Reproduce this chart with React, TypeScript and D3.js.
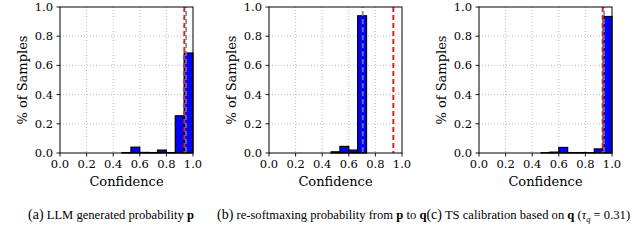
import * as d3 from 'd3';

// 15 equal-width confidence bins on [0, 1]
const binEdges = d3.range(16).map((i) => i / 15);
const ticks = [0, 0.2, 0.4, 0.6, 0.8, 1.0];

// fraction of samples per bin
const pShares = [0, 0, 0, 0, 0, 0, 0, 0.003, 0.04, 0.004, 0.003, 0.02, 0.003, 0.255, 0.685];
const qShares = [0, 0, 0, 0, 0, 0, 0, 0.008, 0.045, 0.02, 0.94, 0, 0, 0, 0];
const tsShares = [0, 0, 0, 0, 0, 0, 0, 0.002, 0.006, 0.038, 0.003, 0.003, 0.002, 0.028, 0.935];

// gray dashed = mean confidence, red dashed = accuracy
const meanConf = [0.948, 0.705, 0.94];
const accuracy = [0.935, 0.935, 0.93];

const panelLefts = [60, 269, 479];
const W = 133;
const TOP = 7;
const BOTTOM = 153;

const tickFont = "'DejaVu Serif', 'Liberation Serif', serif";

function Panel({ left, shares, mean, acc }: { left: number; shares: number[]; mean: number; acc: number }) {
  const x = d3.scaleLinear().domain([0, 1]).range([left, left + W]);
  const y = d3.scaleLinear().domain([0, 1]).range([BOTTOM, TOP]);
  const fmt = d3.format('.1f');
  return (
    <g style={{ fontFamily: tickFont }}>
      {/* grid */}
      {ticks.slice(1, -1).map((t) => (
        <g key={'g' + t}>
          <line x1={x(t)} x2={x(t)} y1={TOP} y2={BOTTOM} stroke="#b0b0b0" strokeWidth={0.8} strokeDasharray="1,2" />
          <line x1={left} x2={left + W} y1={y(t)} y2={y(t)} stroke="#b0b0b0" strokeWidth={0.8} strokeDasharray="1,2" />
        </g>
      ))}
      {/* bars */}
      {shares.map((v, i) =>
        v > 0 ? (
          <rect
            key={'b' + i}
            x={x(binEdges[i])}
            y={y(v)}
            width={x(binEdges[i + 1]) - x(binEdges[i])}
            height={BOTTOM - y(v)}
            fill="#0000ff"
            stroke="#000"
            strokeWidth={1.2}
          />
        ) : null
      )}
      {/* reference lines */}
      <line x1={x(acc)} x2={x(acc)} y1={TOP} y2={BOTTOM} stroke="#d62728" strokeWidth={2} strokeDasharray="5,3" />
      <line x1={x(mean)} x2={x(mean)} y1={TOP} y2={BOTTOM} stroke="#808080" strokeOpacity={0.8} strokeWidth={2} strokeDasharray="5,3" strokeDashoffset={4} />
      {/* frame */}
      <rect x={left} y={TOP} width={W} height={BOTTOM - TOP} fill="none" stroke="#000" strokeWidth={1} />
      {/* ticks */}
      {ticks.map((t) => (
        <g key={'t' + t}>
          <line x1={x(t)} x2={x(t)} y1={BOTTOM} y2={BOTTOM + 3.5} stroke="#000" strokeWidth={0.9} />
          <text x={x(t)} y={BOTTOM + 15} textAnchor="middle" fontSize={11.5} fill="#000">
            {fmt(t)}
          </text>
          <line x1={left - 3.5} x2={left} y1={y(t)} y2={y(t)} stroke="#000" strokeWidth={0.9} />
          <text x={left - 7} y={y(t) + 4} textAnchor="end" fontSize={11.5} fill="#000">
            {fmt(t)}
          </text>
        </g>
      ))}
      <text x={left + W / 2} y={BOTTOM + 33} textAnchor="middle" fontSize={13} fill="#000">
        Confidence
      </text>
      <text
        transform={`translate(${left - 33},${(TOP + BOTTOM) / 2}) rotate(-90)`}
        textAnchor="middle"
        fontSize={13}
        fill="#000"
      >
        % of Samples
      </text>
    </g>
  );
}

const capFont = "'Liberation Serif', 'DejaVu Serif', serif";

export default function App() {
  const all = [pShares, qShares, tsShares];
  return (
    <svg width={640} height={244} style={{ position: 'absolute', left: 0, top: 0, background: '#fff' }}>
      {all.map((s, i) => (
        <Panel key={i} left={panelLefts[i]} shares={s} mean={meanConf[i]} acc={accuracy[i]} />
      ))}
      <g style={{ fontFamily: capFont }}>
        <text x={28} y={219} fontSize={12.6} fill="#000">
          <tspan fontSize={14}>(a)</tspan> LLM generated probability <tspan fontWeight="bold">p</tspan>
        </text>
        <text x={217} y={219} fontSize={12.6} fill="#000">
          <tspan fontSize={14}>(b)</tspan> re-softmaxing probability from <tspan fontWeight="bold">p</tspan> to{' '}
          <tspan fontWeight="bold">q</tspan>
          <tspan fontSize={14}>(c)</tspan> TS calibration based on <tspan fontWeight="bold">q</tspan> (
          <tspan fontStyle="italic">τ</tspan>
          <tspan fontStyle="italic" fontSize={8.5} dy={3}>q</tspan>
          <tspan dy={-3}> = 0.31)</tspan>
        </text>
      </g>
    </svg>
  );
}
